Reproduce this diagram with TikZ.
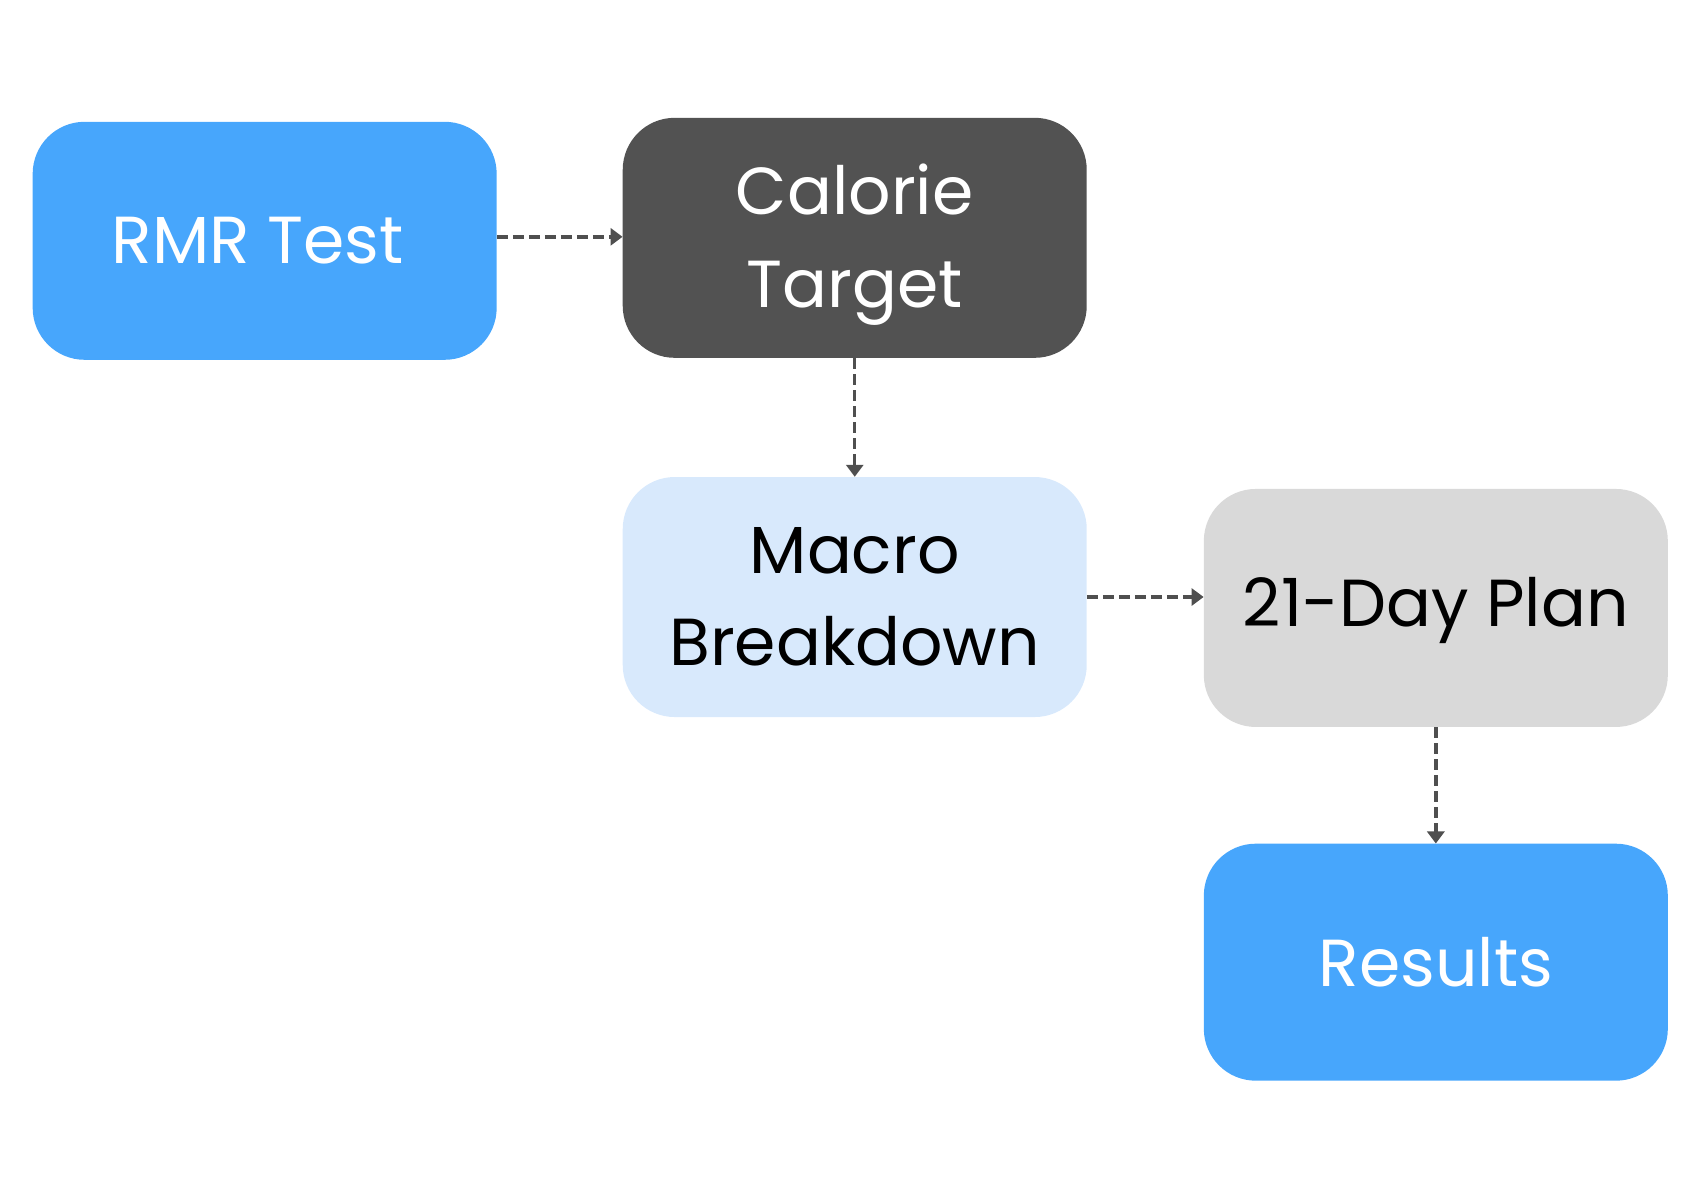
\documentclass[tikz,border=0pt]{standalone}
\usepackage{fontspec}
\setmainfont{Poppins}
\usetikzlibrary{arrows.meta}
\definecolor{bblue}{HTML}{47A6FC}
\definecolor{dgrey}{HTML}{525252}
\definecolor{lblue}{HTML}{D8E9FC}
\definecolor{lgrey}{HTML}{D9D9D9}
\definecolor{arr}{HTML}{4F4F4F}
\tikzset{
  boxtext/.style={align=center, inner sep=0pt, font=\fontsize{66.5}{92.5}\selectfont},
  box/.style={rectangle, rounded corners=52pt, minimum width=464pt, minimum height=239pt, boxtext},
  conn/.style={draw=arr, line width=3.5pt, dash pattern=on 11pt off 5pt,
    -{Triangle[length=12pt,width=17pt]}}
}
\begin{document}
\begin{tikzpicture}[x=0.995pt,y=-0.995pt]
\useasboundingbox (0,0) rectangle (1708.5,1206);
\node[box, fill=bblue, text=white, minimum height=238pt] (rmr) at (266,242) {\hspace*{-14pt}RMR Test};
\node[box, fill=dgrey, minimum height=240pt,
  label={[boxtext, text=white, yshift=-7pt]center:Calorie\\Target}] (cal) at (859,239) {};
\node[box, fill=lblue, text=black, minimum height=240pt] (mac) at (859,600) {Macro\\Breakdown};
\node[box, fill=lgrey, minimum height=238pt,
  label={[boxtext, text=black, yshift=-2.5pt]center:21-Day Plan}] (plan) at (1443,611) {};
\node[box, fill=bblue, text=white, minimum height=237pt] (res) at (1443,967) {Results};
\draw[conn] ([yshift=1pt]rmr.east |- cal.west) -- ([yshift=1pt]cal.west);
\draw[conn] (cal.south) -- (mac.north);
\draw[conn] (mac.east) -- (plan.west |- mac.east);
\draw[conn] (plan.south) -- (res.north);
\end{tikzpicture}
\end{document}
